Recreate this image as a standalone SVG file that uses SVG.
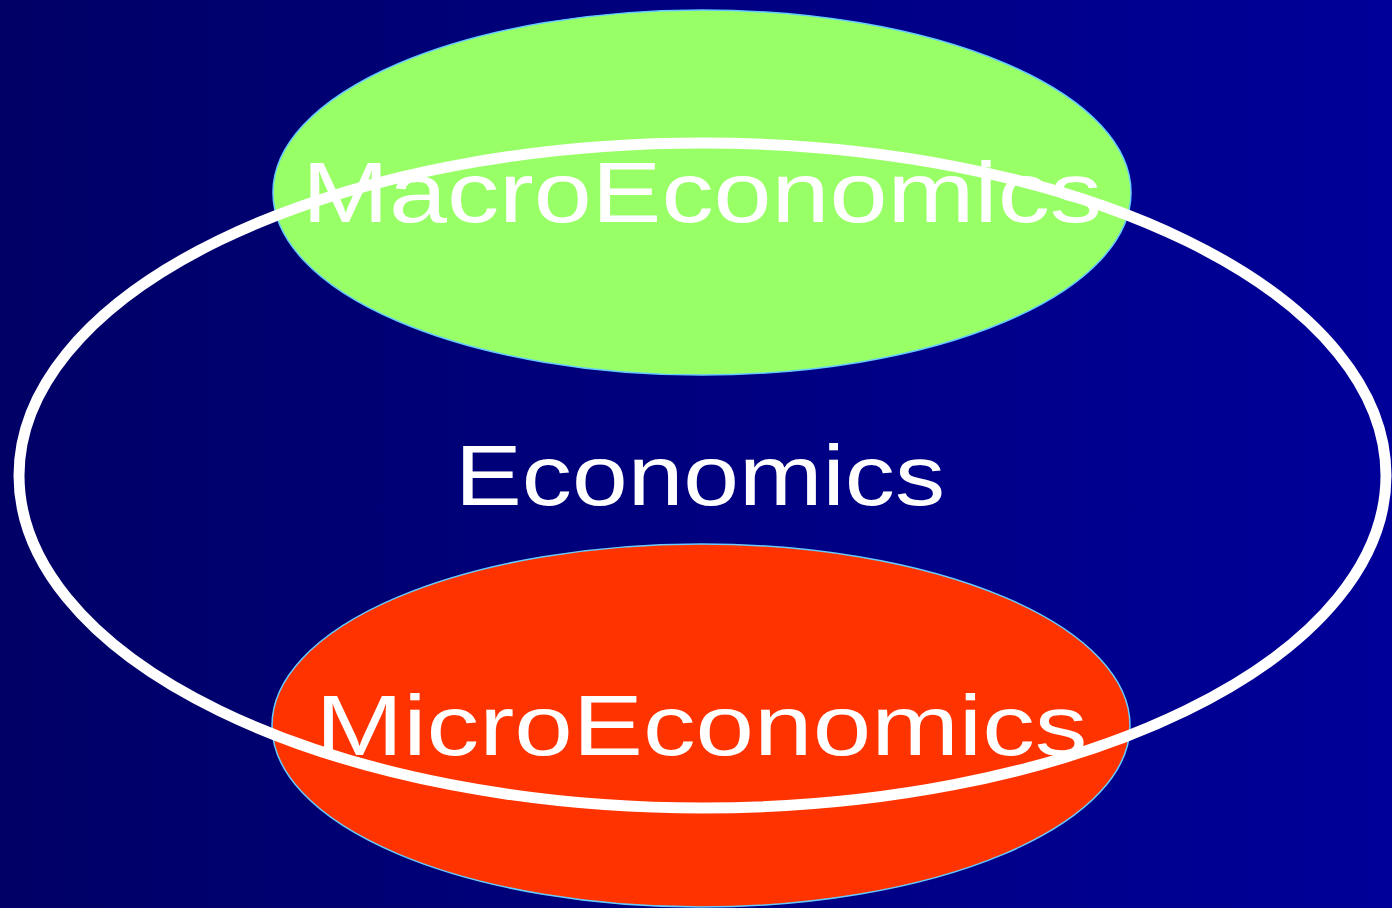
<svg xmlns="http://www.w3.org/2000/svg" width="1392" height="908" viewBox="0 0 1392 908">
<defs>
<linearGradient id="bg" x1="0" y1="0" x2="1" y2="0">
<stop offset="0" stop-color="#000066"/>
<stop offset="1" stop-color="#000099"/>
</linearGradient>
</defs>
<style>
.sub{stroke:#66CCFF;stroke-width:1.5}
.lbl{font-family:"Liberation Sans",Arial,sans-serif;font-size:85px;fill:#FFFFFF;text-anchor:middle}
.outer{fill:none;stroke:#FFFFFF;stroke-width:11}
</style>
<rect x="0" y="0" width="1392" height="908" fill="url(#bg)"/>
<g id="macro">
<ellipse class="sub" cx="702" cy="192.5" rx="429" ry="182.5" fill="#99FF66"/>
</g>
<g id="micro">
<ellipse class="sub" cx="701" cy="725.5" rx="429" ry="181.5" fill="#FF3300"/>
</g>
<g id="economics">
<ellipse class="outer" cx="702.5" cy="475.5" rx="683.5" ry="332.5"/>
<text class="lbl" x="700" y="505" textLength="490" lengthAdjust="spacingAndGlyphs">Economics</text>
</g>
<g id="macro-label">
<text class="lbl" x="702" y="222" textLength="800" lengthAdjust="spacingAndGlyphs">MacroEconomics</text>
</g>
<g id="micro-label">
<text class="lbl" x="701.5" y="755" textLength="772" lengthAdjust="spacingAndGlyphs">MicroEconomics</text>
</g>
<g id="connectors"/>
</svg>
